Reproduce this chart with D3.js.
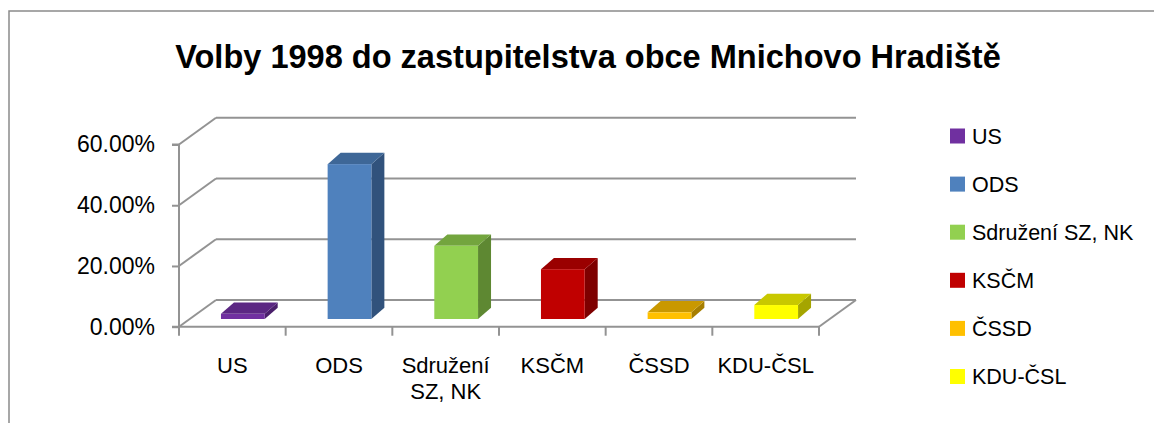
<!DOCTYPE html>
<html><head><meta charset="utf-8">
<script src="https://cdn.jsdelivr.net/npm/d3@7"></script>
<style>
html,body{margin:0;padding:0;background:#fff;}
svg{display:block;}
text{font-family:"Liberation Sans",Arial,sans-serif;fill:#000;}
</style></head>
<body>
<svg id="chart" width="1154" height="423"></svg>
<script>
const title = "Volby 1998 do zastupitelstva obce Mnichovo Hradiště";
const categories = ["US", "ODS", "Sdružení SZ, NK", "KSČM", "ČSSD", "KDU-ČSL"];
const xLabelLines = [["US"], ["ODS"], ["Sdružení", "SZ, NK"], ["KSČM"], ["ČSSD"], ["KDU-ČSL"]];
const values = [0.017, 0.510, 0.241, 0.164, 0.022, 0.046];
const yTicks = [0, 0.2, 0.4, 0.6];
const frontColors = ["#7030A0", "#4F81BD", "#92D050", "#C00000", "#FFC000", "#FFFF00"];
const topColors   = ["#5B2783", "#3E6797", "#73A53E", "#9A0000", "#C99800", "#C8C800"];
const sideColors  = ["#4A1F6B", "#31527C", "#5E8832", "#7E0000", "#A67E00", "#A5A500"];

const svg = d3.select("#chart");
const gridColor = "#939393";

// outer frame
svg.append("path").attr("d", "M9,423 L9,11 L1154,11")
  .attr("fill", "none").attr("stroke", "#8a8a8a").attr("stroke-width", 1.5);

// title
const t = svg.append("text").attr("x", 588).attr("y", 68).attr("text-anchor", "middle")
  .style("font-weight", "bold").style("font-size", "30px").text(title);
const tw = t.node().getComputedTextLength();
t.style("font-size", (30 * 826 / tw) + "px");

// projection
const left = 179, right = 819;
const depth = {dx: 37, dy: -26.7};
const x = d3.scaleBand().domain(categories).range([left, right]).padding(0);
const y = d3.scaleLinear().domain([0, 0.6]).range([326.7, 144.5]);

const g = svg.append("g");
// back wall gridlines + left wall diagonals
yTicks.forEach(v => {
  const yf = y(v), yb = y(v) + depth.dy;
  g.append("line").attr("x1", left + depth.dx).attr("x2", right + depth.dx)
    .attr("y1", yb).attr("y2", yb).attr("stroke", gridColor).attr("stroke-width", 2);
  g.append("line").attr("x1", left).attr("y1", yf).attr("x2", left + depth.dx).attr("y2", yb)
    .attr("stroke", gridColor).attr("stroke-width", 2);
});
// floor right diagonal and front line
g.append("line").attr("x1", right).attr("y1", y(0)).attr("x2", right + depth.dx).attr("y2", y(0) + depth.dy)
  .attr("stroke", gridColor).attr("stroke-width", 2);
g.append("line").attr("x1", left - 7).attr("y1", y(0)).attr("x2", right).attr("y2", y(0))
  .attr("stroke", gridColor).attr("stroke-width", 2);

// y axis
const yAxis = d3.axisLeft(y).tickValues(yTicks).tickFormat(d3.format(".2%")).tickSize(7).tickPadding(17);
const ya = svg.append("g").attr("transform", `translate(${left},0)`).call(yAxis);
ya.select(".domain").attr("stroke", gridColor).attr("stroke-width", 2).attr("d", `M-7,${y(0.6)}H0V${y(0)}`);
ya.selectAll(".tick line").attr("stroke", gridColor).attr("stroke-width", 2);
ya.selectAll(".tick text").style("font-size", "23px").style("font-family", '"Liberation Sans",Arial,sans-serif').attr("fill", "#000");

// category boundary ticks
const bounds = categories.map(c => x(c)).concat([right]);
svg.append("g").selectAll("line").data(bounds).join("line")
  .attr("x1", d => d).attr("x2", d => d).attr("y1", y(0)).attr("y2", y(0) + 9)
  .attr("stroke", gridColor).attr("stroke-width", 2);

// bars
const frontOff = {dx: 10.5, dy: -7.7};
const barDepth = {dx: 13, dy: -11.3};
const bw = x.bandwidth() * 0.41;
const bars = svg.append("g").selectAll("g").data(categories).join("g");
bars.each(function(c, i) {
  const gg = d3.select(this);
  const x0 = x(c) + x.bandwidth() / 2 - bw / 2 + frontOff.dx;
  const x1 = x0 + bw;
  const yb = y(0) + frontOff.dy;
  const yt = y(values[i]) + frontOff.dy;
  gg.append("path").attr("d",
    `M${x1},${yt}L${x1 + barDepth.dx},${yt + barDepth.dy}L${x1 + barDepth.dx},${yb + barDepth.dy}L${x1},${yb}Z`)
    .attr("fill", sideColors[i]);
  gg.append("path").attr("d",
    `M${x0},${yt}L${x0 + barDepth.dx},${yt + barDepth.dy}L${x1 + barDepth.dx},${yt + barDepth.dy}L${x1},${yt}Z`)
    .attr("fill", topColors[i]);
  gg.append("rect").attr("x", x0).attr("y", yt).attr("width", bw).attr("height", yb - yt)
    .attr("fill", frontColors[i]);
});

// x labels
const xl = svg.append("g").selectAll("text").data(categories).join("text")
  .attr("x", c => x(c) + x.bandwidth() / 2).attr("y", 373)
  .attr("text-anchor", "middle").style("font-size", "22px");
xl.each(function(c, i) {
  d3.select(this).selectAll("tspan").data(xLabelLines[i]).join("tspan")
    .attr("x", x(c) + x.bandwidth() / 2).attr("dy", (d, j) => j === 0 ? 0 : 26).text(d => d);
});

// legend
const ly = d3.scalePoint().domain(categories).range([136, 376.5]);
const leg = svg.append("g").selectAll("g").data(categories).join("g")
  .attr("transform", c => `translate(950,${ly(c)})`);
leg.append("rect").attr("x", 0).attr("y", -7.5).attr("width", 15).attr("height", 15)
  .attr("fill", (c, i) => frontColors[i]);
leg.append("text").attr("x", 22).attr("y", 7.5).style("font-size", "21.5px").text(c => c);
</script>
</body></html>
